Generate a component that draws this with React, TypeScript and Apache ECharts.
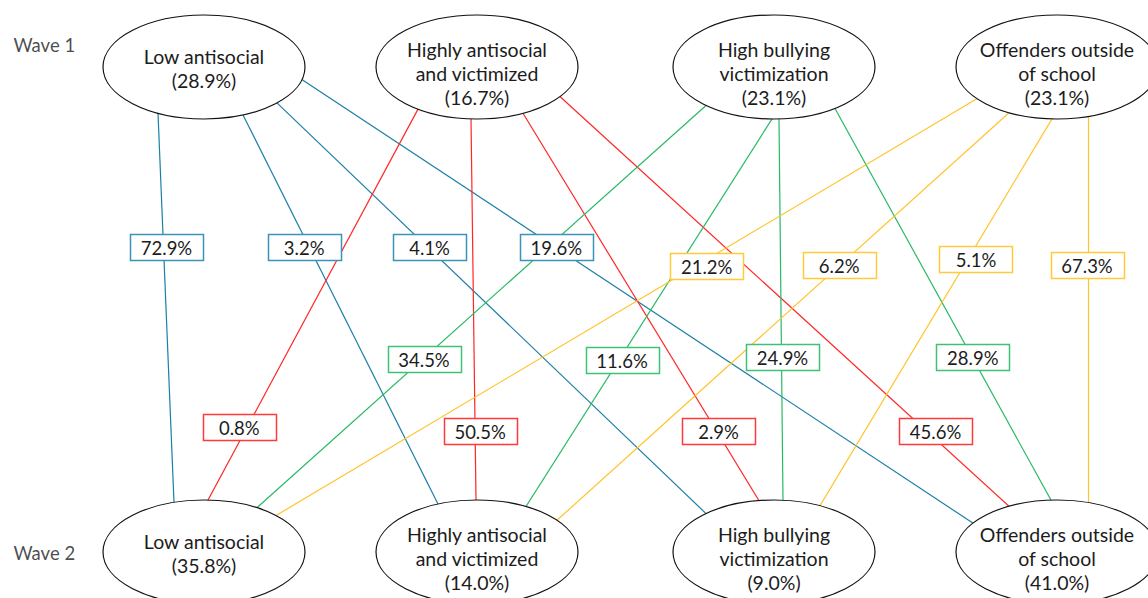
import React, { useEffect, useRef } from "react";
import * as echarts from "echarts";

// ---------- data ----------
const classNames = [
  "Low antisocial",
  "Highly antisocial\nand victimized",
  "High bullying\nvictimization",
  "Offenders outside\nof school",
];
const wave1Share = [28.9, 16.7, 23.1, 23.1];
const wave2Share = [35.8, 14.0, 9.0, 41.0];
const fromLowAntisocial = [72.9, 3.2, 4.1, 19.6];
const fromHighlyAntisocial = [0.8, 50.5, 2.9, 45.6];
const fromHighBullying = [34.5, 11.6, 24.9, 28.9];
const fromOffenders = [21.2, 6.2, 5.1, 67.3];
const waveLabels = ["Wave 1", "Wave 2"];

// ---------- layout / style ----------
const W = 1148;
const H = 598;
const FONT = "Lato";
const nodeX = [204, 477, 774, 1057];
const waveY = [67, 552];
const RX = 101;
const RY = 52;
// where each transition line leaves its wave-1 ellipse (offset from centre), [from][to]
const topAnchorDx = [
  [-46, 39, 73, 98],
  [-59, -6, 46, 83],
  [-68, -2, 5, 61],
  [-80, -48, -5, 31],
];
// where each transition line enters its wave-2 ellipse, [to][from]
const bottomAnchorDx = [
  [-30, 4, 53, 72],
  [-39, -1, 49, 80],
  [-68, -15, 9, 46],
  [-84, -48, -6, 31],
];
// vertical position of the percentage box on each line, [from][to]
const boxY = [
  [247, 247, 247, 247],
  [427, 431, 431, 431],
  [359, 360, 356.5, 356.5],
  [266, 265, 259, 265],
];
const boxDx = [
  [3, -5, 2, 1],
  [-8, 5, 2, 9],
  [1, 3, 1, 1],
  [11, -1, 8, -1],
];
const BOX_W = 73;
const BOX_H = 26;
const lineColors = ["#1c7fa6", "#ff2626", "#28b965", "#ffc42a"];
const boxBorderColors = ["#3b93b8", "#ff3a3a", "#3cc176", "#ffc93a"];
const TEXT_COLOR = "#1c1c1c";
const textDy2 = 1.5;
const textDy3 = 6;

export default function App() {
  const ref = useRef<HTMLDivElement>(null);

  useEffect(() => {
    if (!ref.current) return;
    const chart = echarts.init(ref.current, undefined, { renderer: "svg" });

    const matrix = [fromLowAntisocial, fromHighlyAntisocial, fromHighBullying, fromOffenders];

    const edgeData: any[] = [];
    const boxData: any[] = [];
    const boxColor: string[] = [];
    for (let i = 0; i < 4; i++) {
      for (let j = 0; j < 4; j++) {
        const dxTop = topAnchorDx[i][j];
        const dxBot = bottomAnchorDx[j][i];
        const rt = Math.min(1, Math.abs(dxTop) / RX);
        const rb = Math.min(1, Math.abs(dxBot) / RX);
        const x1 = nodeX[i] + dxTop;
        const y1 = waveY[0] + RY * Math.sqrt(1 - rt * rt);
        const x2 = nodeX[j] + dxBot;
        const y2 = waveY[1] - RY * Math.sqrt(1 - rb * rb);
        const len = Math.hypot(x2 - x1, y2 - y1);
        const ux = (x2 - x1) / len;
        const uy = (y2 - y1) / len;
        const e = 12;
        edgeData.push({
          coords: [
            [x1 - ux * e, y1 - uy * e],
            [x2 + ux * e, y2 + uy * e],
          ],
          lineStyle: { color: lineColors[i], width: 1.2, opacity: 1 },
        });
        const ly = boxY[i][j];
        const t = (ly - y1) / (y2 - y1);
        const lx = x1 + t * (x2 - x1) + boxDx[i][j];
        boxData.push([lx, ly, matrix[i][j]]);
        boxColor.push(boxBorderColors[i]);
      }
    }

    const nodeData: any[] = [];
    for (let w = 0; w < 2; w++) {
      const shares = w === 0 ? wave1Share : wave2Share;
      for (let k = 0; k < 4; k++) {
        const text = `${classNames[k]}\n(${shares[k].toFixed(1)}%)`;
        nodeData.push({ value: [nodeX[k], waveY[w]], text });
      }
    }

    const waveData = waveLabels.map((lab, w) => ({
      value: [13, w === 0 ? 45 : 553],
      name: lab,
    }));

    chart.setOption({
      animation: false,
      backgroundColor: "#ffffff",
      grid: { left: 0, right: 0, top: 0, bottom: 0, containLabel: false },
      xAxis: { type: "value", min: 0, max: W, show: false },
      yAxis: { type: "value", min: 0, max: H, inverse: true, show: false },
      series: [
        {
          type: "lines",
          coordinateSystem: "cartesian2d",
          polyline: false,
          silent: true,
          z: 1,
          data: edgeData,
        },
        {
          type: "custom",
          z: 3,
          silent: true,
          clip: false,
          renderItem: (params: any, api: any) => {
            const c = api.coord([api.value(0), api.value(1)]);
            const v = api.value(2);
            return {
              type: "group",
              children: [
                {
                  type: "rect",
                  shape: {
                    x: Math.round(c[0] - BOX_W / 2) + 0.5,
                    y: Math.round(c[1] - BOX_H / 2) + 0.5,
                    width: BOX_W,
                    height: BOX_H,
                  },
                  style: {
                    fill: "#ffffff",
                    stroke: boxColor[params.dataIndex],
                    lineWidth: 1.5,
                  },
                },
                {
                  type: "text",
                  x: c[0],
                  y: c[1] + 1,
                  style: {
                    text: `${Number(v).toFixed(1)}%`,
                    fill: TEXT_COLOR,
                    fontFamily: FONT,
                    fontSize: 18.5,
                    align: "center",
                    verticalAlign: "middle",
                  },
                },
              ],
            };
          },
          data: boxData,
        },
        {
          type: "custom",
          z: 5,
          silent: true,
          clip: false,
          renderItem: (params: any, api: any) => {
            const c = api.coord([api.value(0), api.value(1)]);
            const d = nodeData[params.dataIndex];
            const lines = d.text.split("\n").length;
            const dy = lines === 3 ? textDy3 : textDy2;
            return {
              type: "group",
              children: [
                {
                  type: "ellipse",
                  shape: { cx: c[0], cy: c[1], rx: RX, ry: RY },
                  style: { fill: "#ffffff", stroke: "#111111", lineWidth: 1.2 },
                },
                {
                  type: "text",
                  x: c[0],
                  y: c[1] + dy,
                  style: {
                    text: d.text,
                    fill: TEXT_COLOR,
                    fontFamily: FONT,
                    fontSize: 19.5,
                    lineHeight: 24,
                    align: "center",
                    verticalAlign: "middle",
                  },
                },
              ],
            };
          },
          data: nodeData.map((d) => d.value),
        },
        {
          type: "scatter",
          z: 6,
          silent: true,
          symbolSize: 1,
          itemStyle: { color: "rgba(0,0,0,0)" },
          label: {
            show: true,
            position: "right",
            distance: 0,
            color: TEXT_COLOR,
            fontFamily: FONT,
            fontSize: 18.5,
            formatter: (p: any) => p.name,
          },
          data: waveData,
        },
      ],
    });

    return () => chart.dispose();
  }, []);

  return (
    <div
      ref={ref}
      style={{ position: "fixed", left: 0, top: 0, width: W, height: H }}
    />
  );
}
